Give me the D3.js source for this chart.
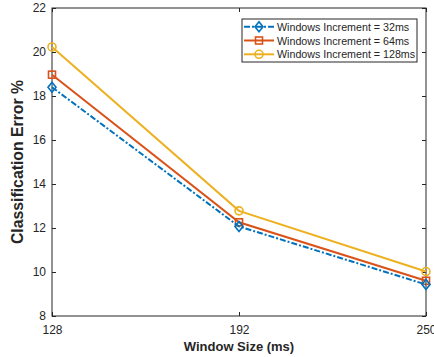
<!DOCTYPE html>
<html>
<head>
<meta charset="utf-8">
<script src="https://cdn.jsdelivr.net/npm/d3@7"></script>
<style>
  body { margin: 0; background: #fff; }
  svg { display: block; font-family: "Liberation Sans", Arial, Helvetica, sans-serif; }
</style>
</head>
<body>
<svg id="chart" width="434" height="357"></svg>
<script>
const windowSizes = ['128', '192', '250'];
const yTicks = [8, 10, 12, 14, 16, 18, 20, 22];
const err32 = [18.4, 12.07, 9.43];
const err64 = [18.97, 12.26, 9.6];
const err128 = [20.23, 12.78, 10.02];
const seriesNames = ['Windows Increment = 32ms', 'Windows Increment = 64ms', 'Windows Increment = 128ms'];

const textColor = '#262626';
const series = [
  { name: seriesNames[0], values: err32, color: '#0072BD', dash: '6,2,2,2', marker: 'diamond' },
  { name: seriesNames[1], values: err64, color: '#D95319', dash: null, marker: 'square' },
  { name: seriesNames[2], values: err128, color: '#EDB120', dash: null, marker: 'circle' },
];

const svg = d3.select('#chart');
const plot = { left: 52, right: 426, top: 8, bottom: 316 };

const x = d3.scalePoint().domain(windowSizes).range([plot.left, plot.right]);
const y = d3.scaleLinear().domain([8, 22]).range([plot.bottom, plot.top]);

// 坐标轴
const xAxis = svg.append('g')
  .attr('transform', `translate(0,${plot.bottom})`)
  .call(d3.axisBottom(x).tickSize(-4).tickPadding(9));
const yAxis = svg.append('g')
  .attr('transform', `translate(${plot.left},0)`)
  .call(d3.axisLeft(y).tickValues(yTicks).tickSize(-4).tickPadding(6));
[xAxis, yAxis].forEach(a => {
  a.select('.domain').remove();
  a.selectAll('line').attr('stroke', textColor).attr('stroke-width', 1);
  a.selectAll('text').attr('font-size', 12).attr('fill', textColor)
    .attr('font-family', '"Liberation Sans", Arial, sans-serif');
});
// mirrored ticks (box on)
svg.append('g')
  .attr('transform', `translate(0,${plot.top})`)
  .call(d3.axisTop(x).tickSize(-4).tickFormat(''))
  .call(g => g.select('.domain').remove())
  .selectAll('line').attr('stroke', textColor);
svg.append('g')
  .attr('transform', `translate(${plot.right},0)`)
  .call(d3.axisRight(y).tickValues(yTicks).tickSize(-4).tickFormat(''))
  .call(g => g.select('.domain').remove())
  .selectAll('line').attr('stroke', textColor);

svg.append('rect')
  .attr('x', plot.left).attr('y', plot.top)
  .attr('width', plot.right - plot.left).attr('height', plot.bottom - plot.top)
  .attr('fill', 'none').attr('stroke', textColor).attr('stroke-width', 1);

// 标题
svg.append('text')
  .attr('x', (plot.left + plot.right) / 2).attr('y', 351)
  .attr('text-anchor', 'middle')
  .attr('font-size', 13).attr('font-weight', 'bold').attr('fill', textColor)
  .text('Window Size (ms)');
svg.append('text')
  .attr('transform', `translate(23,${(plot.top + plot.bottom) / 2}) rotate(-90)`)
  .attr('text-anchor', 'middle')
  .attr('font-size', 15.8).attr('font-weight', 'bold').attr('fill', textColor)
  .text('Classification Error %');

function drawMarker(g, type, color, cx, cy) {
  if (type === 'diamond') {
    g.append('path')
      .attr('d', `M${cx},${cy - 5}L${cx + 4},${cy}L${cx},${cy + 5}L${cx - 4},${cy}Z`)
      .attr('fill', 'none').attr('stroke', color).attr('stroke-width', 1.6);
  } else if (type === 'square') {
    g.append('rect')
      .attr('x', cx - 3.5).attr('y', cy - 3.5).attr('width', 7).attr('height', 7)
      .attr('fill', 'none').attr('stroke', color).attr('stroke-width', 1.6);
  } else {
    g.append('circle')
      .attr('cx', cx).attr('cy', cy).attr('r', 4)
      .attr('fill', 'none').attr('stroke', color).attr('stroke-width', 1.6);
  }
}

// 折线
const line = d3.line().x((d, i) => x(windowSizes[i])).y(d => y(d));
const lines = svg.append('g');
series.slice().reverse().forEach(s => {
  const g = lines.append('g');
  g.append('path')
    .attr('d', line(s.values))
    .attr('fill', 'none')
    .attr('stroke', s.color)
    .attr('stroke-width', 2)
    .attr('stroke-dasharray', s.dash);
  s.values.forEach((v, i) => drawMarker(g, s.marker, s.color, x(windowSizes[i]), y(v)));
});

// 图例
const lg = svg.append('g');
lg.append('rect')
  .attr('x', 242).attr('y', 19).attr('width', 175).attr('height', 43)
  .attr('fill', '#fff').attr('stroke', textColor).attr('stroke-width', 1);
series.forEach((s, i) => {
  const ly = 26.7 + i * 13.8;
  lg.append('line')
    .attr('x1', 244).attr('x2', 274).attr('y1', ly).attr('y2', ly)
    .attr('stroke', s.color).attr('stroke-width', 2)
    .attr('stroke-dasharray', s.dash);
  drawMarker(lg, s.marker, s.color, 259, ly);
  lg.append('text')
    .attr('x', 277).attr('y', ly + 4)
    .attr('font-size', 10.7).attr('fill', textColor)
    .text(s.name);
});
</script>
</body>
</html>
